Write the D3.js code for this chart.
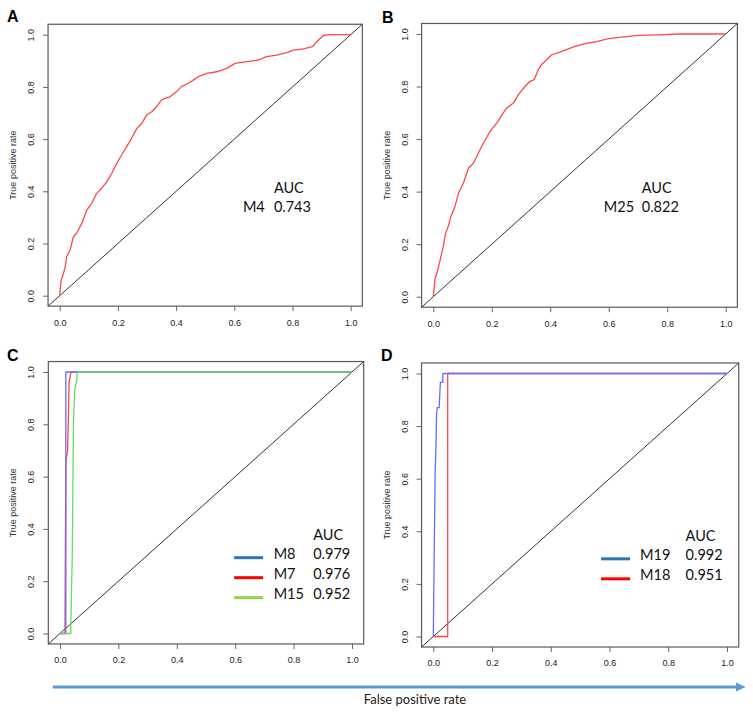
<!DOCTYPE html>
<html>
<head>
<meta charset="utf-8">
<script src="https://cdn.jsdelivr.net/npm/d3@7"></script>
<style>
  body { margin: 0; background: #fff; }
  svg { display: block; }
</style>
</head>
<body>
<svg id="fig" width="753" height="712"></svg>
<script>
"use strict";

// ---- data: [false positive rate, true positive rate] ----
const axisTicks = [0, 0.2, 0.4, 0.6, 0.8, 1.0];
const diagonal = [[-0.04, -0.04], [1.04, 1.04]];

const rocM4 = [
  [0, 0], [0.005, 0.06], [0.013, 0.086], [0.019, 0.11], [0.024, 0.15], [0.036, 0.175],
  [0.047, 0.226], [0.058, 0.239], [0.076, 0.277], [0.093, 0.328], [0.11, 0.354],
  [0.127, 0.392], [0.144, 0.411], [0.162, 0.437], [0.179, 0.469], [0.196, 0.507],
  [0.213, 0.539], [0.23, 0.571], [0.247, 0.603], [0.265, 0.641], [0.282, 0.66],
  [0.299, 0.692], [0.316, 0.705], [0.333, 0.724], [0.35, 0.75], [0.362, 0.756],
  [0.379, 0.762], [0.402, 0.782], [0.419, 0.801], [0.442, 0.814], [0.459, 0.826],
  [0.477, 0.839], [0.505, 0.852], [0.54, 0.858], [0.574, 0.871], [0.603, 0.89],
  [0.643, 0.897], [0.683, 0.903], [0.711, 0.916], [0.746, 0.922], [0.78, 0.931],
  [0.803, 0.941], [0.837, 0.946], [0.869, 0.954], [0.883, 0.973], [0.906, 0.997],
  [0.923, 1.0], [1.0, 1.0]
];

const rocM25 = [
  [0, 0], [0.006, 0.07], [0.015, 0.10], [0.026, 0.152], [0.034, 0.19], [0.042, 0.241],
  [0.051, 0.267], [0.06, 0.305], [0.074, 0.343], [0.086, 0.394], [0.103, 0.432],
  [0.12, 0.489], [0.137, 0.508], [0.154, 0.546], [0.171, 0.584], [0.194, 0.629],
  [0.217, 0.661], [0.239, 0.699], [0.251, 0.718], [0.274, 0.737], [0.291, 0.769],
  [0.314, 0.801], [0.331, 0.82], [0.345, 0.826], [0.359, 0.864], [0.373, 0.887],
  [0.388, 0.902], [0.405, 0.921], [0.433, 0.931], [0.462, 0.943], [0.485, 0.953],
  [0.519, 0.963], [0.559, 0.971], [0.599, 0.982], [0.644, 0.988], [0.701, 0.995],
  [0.77, 0.997], [0.838, 1.0], [1.0, 1.0]
];

const rocM8 = [[0, 0], [0.02, 0], [0.02, 1.0], [0.06, 1.0], [1.0, 1.0]];
const rocM7 = [
  [0, 0], [0.017, 0], [0.02, 0.66], [0.026, 0.70], [0.029, 0.84], [0.031, 0.96],
  [0.036, 0.99], [0.038, 1.0], [1.0, 1.0]
];
const rocM15 = [
  [0, 0], [0.037, 0], [0.037, 0.03], [0.042, 0.3], [0.046, 0.8], [0.05, 0.93],
  [0.058, 0.97], [0.059, 1.0], [1.0, 1.0]
];

const rocM19 = [
  [0, 0], [0.002, 0.2], [0.006, 0.61], [0.009, 0.72], [0.011, 0.84], [0.013, 0.87],
  [0.02, 0.87], [0.024, 0.966], [0.032, 0.966], [0.033, 1.0], [1.0, 1.0]
];
const rocM18 = [[0, 0], [0.049, 0], [0.049, 1.0], [1.0, 1.0]];

const panelLetters = ["A", "B", "C", "D"];
const modelNames = [["M4"], ["M25"], ["M8", "M7", "M15"], ["M19", "M18"]];
const aucValues = [["0.743"], ["0.822"], ["0.979", "0.976", "0.952"], ["0.992", "0.951"]];
const curveData = [[rocM4], [rocM25], [rocM7, rocM8, rocM15], [rocM18, rocM19]];

const yLabel = "True positive rate";
const xLabel = "False positive rate";

// ---- layout ----
const svg = d3.select("#fig");

const panels = [
  { x: [59.7, 350.7], y: [295.7, 34.7], colors: ["#ff4848"], legend: null,
    auc: { x: 0.736, y: 0.393, nameDx: -31 }, letter: [7, 22] },
  { x: [433.3, 725.7], y: [296.7, 34], colors: ["#ff4848"], legend: null,
    auc: { x: 0.713, y: 0.395, nameDx: -38 }, letter: [382, 23] },
  { x: [60, 352], y: [633.5, 372], colors: ["#ff4848", "#6a6aff", "#5fe05f"],
    legend: { colors: ["#2e75b6", "#ff0000", "#92d050"], x0: -79, x1: -50 },
    auc: { x: 0.867, y: 0.358, nameDx: -39.5 }, letter: [7, 361] },
  { x: [433.3, 727], y: [636.5, 373.5], colors: ["#ff4848", "#6a6aff"],
    legend: { colors: ["#2e75b6", "#ff0000"], x0: -84.5, x1: -55.5 },
    auc: { x: 0.859, y: 0.363, nameDx: -45.5 }, letter: [381, 361] }
];

const tickFont = "'Liberation Sans', Arial, sans-serif";
const textFont = "Lato, 'Open Sans', sans-serif";

panels.forEach((p, i) => {
  const x = d3.scaleLinear().domain([0, 1]).range(p.x);
  const y = d3.scaleLinear().domain([0, 1]).range(p.y);
  const g = svg.append("g");

  const left = x(-0.04), right = x(1.04), top = y(1.04), bottom = y(-0.04);

  // axes (R style: ticks on the box edge)
  const xAxis = g.append("g")
      .attr("transform", `translate(0,${bottom})`)
      .call(d3.axisBottom(x).tickValues(axisTicks).tickFormat(d3.format(".1f")).tickSize(5).tickSizeOuter(0));
  const yAxis = g.append("g")
      .attr("transform", `translate(${left},0)`)
      .call(d3.axisLeft(y).tickValues(axisTicks).tickFormat(d3.format(".1f")).tickSize(5).tickSizeOuter(0));

  [xAxis, yAxis].forEach(a => {
    a.select(".domain").remove();
    a.selectAll("line").attr("stroke", "#666");
    a.selectAll("text").attr("fill", "#222")
      .style("font-family", tickFont).style("font-size", "9px");
  });
  xAxis.selectAll("text").attr("y", 13);
  yAxis.selectAll("text")
      .attr("x", null).attr("dy", null)
      .attr("text-anchor", "middle")
      .attr("transform", "translate(-14,0) rotate(-90)");

  // box
  g.append("rect")
      .attr("x", left).attr("y", top)
      .attr("width", right - left).attr("height", bottom - top)
      .attr("fill", "none").attr("stroke", "#5a5a5a").attr("stroke-width", 1.2);

  const line = d3.line().x(d => x(d[0])).y(d => y(d[1]));

  // diagonal reference
  g.append("path").attr("d", line(diagonal))
      .attr("fill", "none").attr("stroke", "#333").attr("stroke-width", 1);

  // ROC curves
  curveData[i].forEach((c, k) => {
    g.append("path").attr("d", line(c))
        .attr("fill", "none")
        .attr("stroke", p.colors[k])
        .attr("stroke-width", 1.3)
        .attr("stroke-linejoin", "round");
  });

  // y label
  g.append("text")
      .attr("transform", `translate(${left - 32},${(y(0) + y(1)) / 2}) rotate(-90)`)
      .attr("text-anchor", "middle")
      .attr("fill", "#333")
      .style("font-family", tickFont).style("font-size", "9px")
      .text(yLabel);

  // panel letter
  g.append("text")
      .attr("x", p.letter[0]).attr("y", p.letter[1])
      .style("font-family", tickFont).style("font-size", "16px").style("font-weight", "bold")
      .text(panelLetters[i]);

  // AUC block
  const ax = x(p.auc.x), ay = y(p.auc.y);
  const txt = (tx, ty, s) => g.append("text")
      .attr("x", tx).attr("y", ty)
      .attr("fill", "#111")
      .style("font-family", textFont).style("font-size", "14.5px")
      .text(s);
  txt(ax, ay, "AUC");
  const rowStep = p.legend ? 20 : 19;
  modelNames[i].forEach((m, k) => {
    const by = ay + 19.3 + k * rowStep;
    txt(ax + p.auc.nameDx, by, m);
    txt(ax, by, aucValues[i][k]);
    if (p.legend) {
      g.append("line")
          .attr("x1", ax + p.legend.x0).attr("x2", ax + p.legend.x1)
          .attr("y1", by - 1.5).attr("y2", by - 1.5)
          .attr("stroke", p.legend.colors[k]).attr("stroke-width", 3);
    }
  });
});

// shared x-axis label with arrow
const arrowY = 687;
svg.append("line")
    .attr("x1", 52.7).attr("x2", 738)
    .attr("y1", arrowY).attr("y2", arrowY)
    .attr("stroke", "#5b9bd5").attr("stroke-width", 3);
svg.append("path")
    .attr("d", d3.line()([[736, arrowY - 4.5], [745.7, arrowY], [736, arrowY + 4.5]]) + "Z")
    .attr("fill", "#5b9bd5");
svg.append("text")
    .attr("x", 415).attr("y", 704)
    .attr("text-anchor", "middle")
    .attr("fill", "#222")
    .style("font-family", textFont).style("font-size", "13px")
    .text(xLabel);
</script>
</body>
</html>
